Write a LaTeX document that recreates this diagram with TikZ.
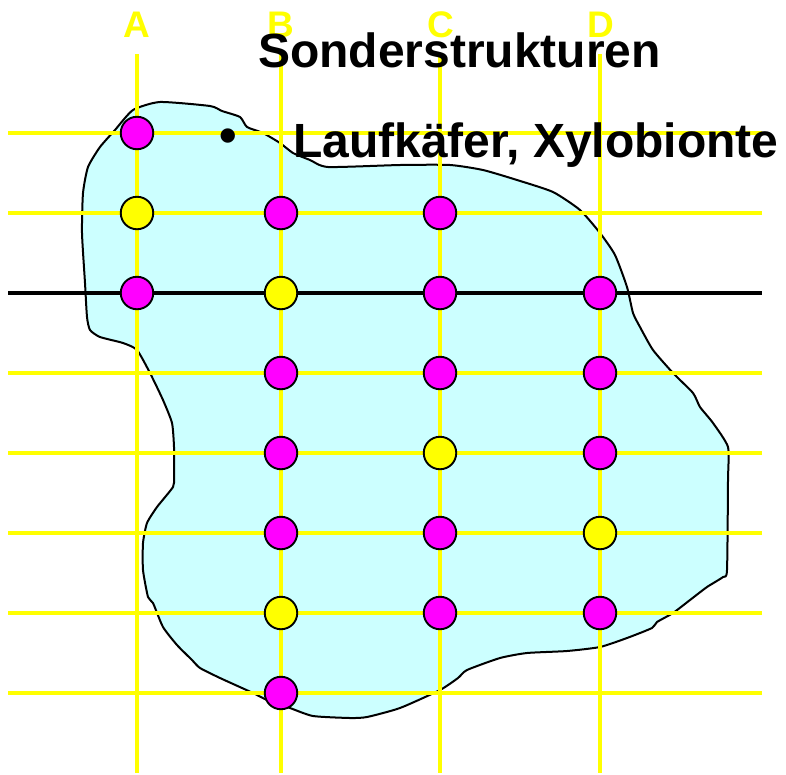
\documentclass[tikz,border=0pt]{standalone}
\usepackage{fontspec}
\setmainfont{Liberation Sans}
\definecolor{ylw}{HTML}{FFFF00}
\definecolor{mag}{HTML}{FF00FF}
\definecolor{blobfill}{HTML}{CCFFFF}
\begin{document}
\begin{tikzpicture}[x=1pt,y=-1pt,
  gridline/.style={draw=ylw,line width=3.4pt},
  blackline/.style={draw=black,line width=3.4pt},
  dot/.style={circle,draw=black,line width=1.9pt,minimum size=32.5pt,inner sep=0pt},
  magdot/.style={dot,fill=mag},
  ylwdot/.style={dot,fill=ylw},
  collabel/.style={text=ylw,font=\fontsize{37}{40}\selectfont\bfseries,anchor=base,inner sep=0pt},
  bigtext/.style={text=black,font=\fontsize{48}{56}\selectfont\bfseries,anchor=base west,inner sep=0pt}]
\useasboundingbox (0,0) rectangle (786,774);
% blob
\filldraw[fill=blobfill,draw=black,line width=2pt]
  plot[smooth cycle,tension=0.35] coordinates {
  (133,110) (160,102) (210,106) (222,111) (240,117) (247,127) (263,133) (280,143)
  (293,153) (310,160) (328,167) (400,165) (450,165) (483,170) (517,180) (553,192)
  (580,210) (600,233) (615,255) (627,287) (633,313) (640,327) (653,350) (673,373)
  (693,393) (700,407) (713,423) (728,447) (728,480) (727,570) (723,577) (707,587)
  (690,600) (673,613) (657,622) (652,628) (627,638) (600,647) (567,651) (527,653)
  (500,658) (467,670) (458,678) (440,690) (400,708) (367,717) (350,718) (313,716)
  (290,708) (267,700) (253,693) (220,678) (200,668) (192,660) (177,645) (163,627)
  (153,603) (148,597) (143,570) (143,543) (147,523) (157,507) (173,487) (174,477)
  (174,447) (172,423) (163,400) (150,373) (137,350) (123,343) (100,337) (90,330)
  (87,317) (85,283) (82,233) (83,193) (88,167) (100,147) (115,130)};
% grid
\foreach \yy in {133,213,373,453,533,613,693}
  \draw[gridline] (8,\yy) -- (762,\yy);
\draw[blackline] (8,293) -- (762,293);
\foreach \xx in {137,281,440,600}
  \draw[gridline] (\xx,54) -- (\xx,773);
% labels
\node[collabel] (lA) at (137,37) {A};
\node[collabel] (lB) at (281,37) {B};
\node[collabel] (lC) at (441,37) {C};
\node[collabel] (lD) at (601,37) {D};
% circles
\node[magdot] (a1) at (137,133) {};
\node[ylwdot] (a2) at (137,213) {};
\node[magdot] (b2) at (281,213) {};
\node[magdot] (c2) at (440,213) {};
\node[magdot] (a3) at (137,293) {};
\node[ylwdot] (b3) at (281,293) {};
\node[magdot] (c3) at (440,293) {};
\node[magdot] (d3) at (600,293) {};
\node[magdot] (b4) at (281,373) {};
\node[magdot] (c4) at (440,373) {};
\node[magdot] (d4) at (600,373) {};
\node[magdot] (b5) at (281,453) {};
\node[ylwdot] (c5) at (440,453) {};
\node[magdot] (d5) at (600,453) {};
\node[magdot] (b6) at (281,533) {};
\node[magdot] (c6) at (440,533) {};
\node[ylwdot] (d6) at (600,533) {};
\node[ylwdot] (b7) at (281,613) {};
\node[magdot] (c7) at (440,613) {};
\node[magdot] (d7) at (600,613) {};
\node[magdot] (b8) at (281,693) {};
% texts
\node[bigtext] (title) at (258,67) {Sonderstrukturen};
\node[text=black,font=\fontsize{50}{56}\selectfont\bfseries,inner sep=0pt] (bul) at (228,141) {•};
\node[bigtext] (item) at (293,157) {Laufkäfer, Xylobionte};
\end{tikzpicture}
\end{document}
